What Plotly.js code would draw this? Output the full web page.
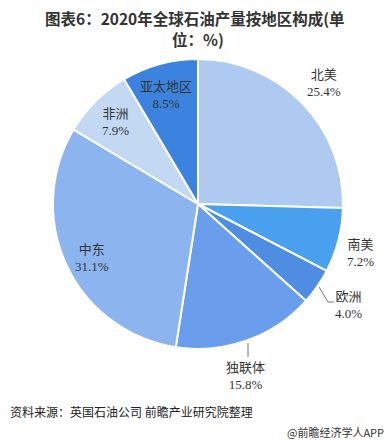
<!DOCTYPE html>
<html>
<head>
<meta charset="utf-8">
<script src="https://cdn.plot.ly/plotly-3.0.1.min.js"></script>
<style>
html,body{margin:0;padding:0;background:#fff;}
#chart{width:391px;height:444px;}
</style>
</head>
<body>
<div id="chart"></div>
<script>
var regions = ["北美", "南美", "欧洲", "独联体", "中东", "非洲", "亚太地区"];
var shares = [25.4, 7.2, 4.0, 15.8, 31.1, 7.9, 8.5];
var colors = ["#aecaf1", "#48a0ef", "#4f8de3", "#6a9eec", "#8cb5f0", "#c3d8f3", "#3b83df"];
var titleLines = ["图表6：2020年全球石油产量按地区构成(单", "位：%)"];
var sourceText = "资料来源：英国石油公司 前瞻产业研究院整理";
var brandText = "@前瞻经济学人APP";

var W = 391, H = 444;
function px(x){return x / W;}
function py(y){return 1 - y / H;}

// label anchor positions (pixel) for each region
var labelPos = [[324, 83], [360, 253], [348, 305], [245, 376], [92, 258], [115, 122], [166, 95]];

var labelFont = {family: "'Liberation Serif', 'Noto Sans CJK SC', serif", size: 13, color: "#333333"};

var annotations = regions.map(function(r, i){
  return {
    xref: "paper", yref: "paper",
    x: px(labelPos[i][0]), y: py(labelPos[i][1]),
    text: r + "<br>" + shares[i].toFixed(1) + "%",
    showarrow: false, font: labelFont, align: "center",
    xanchor: "center", yanchor: "middle"
  };
});

var titleFont = {family: "'Noto Sans CJK SC', sans-serif", size: 15.5, color: "#333333"};
annotations.push({
  xref: "paper", yref: "paper", x: px(195), y: py(18),
  text: "<b>" + titleLines[0] + "</b>", showarrow: false,
  xanchor: "center", yanchor: "middle", font: titleFont, borderpad: 0
});
annotations.push({
  xref: "paper", yref: "paper", x: px(198), y: py(39),
  text: "<b>" + titleLines[1] + "</b>", showarrow: false,
  xanchor: "center", yanchor: "middle", font: titleFont, borderpad: 0
});

annotations.push({
  xref: "paper", yref: "paper", x: px(8), y: py(411),
  text: sourceText, showarrow: false, xanchor: "left", yanchor: "middle",
  font: {family: "'Noto Sans CJK SC', sans-serif", size: 12, color: "#222222"}
});
annotations.push({
  xref: "paper", yref: "paper", x: px(386), y: py(432),
  text: brandText, showarrow: false, xanchor: "right", yanchor: "middle",
  font: {family: "'Noto Sans CJK SC', sans-serif", size: 11, color: "#333333"}
});

var shapes = [
  {type: "path", xref: "paper", yref: "paper",
   path: "M " + px(319) + " " + py(287) + " L " + px(328) + " " + py(302) + " L " + px(334) + " " + py(302),
   line: {color: "#777777", width: 1}},
  {type: "line", xref: "paper", yref: "paper",
   x0: px(248), y0: py(343), x1: px(248), y1: py(357),
   line: {color: "#777777", width: 1}}
];

var data = [{
  type: "pie",
  labels: regions,
  values: shares,
  sort: false,
  direction: "clockwise",
  rotation: 0,
  marker: {colors: colors, line: {color: "#ffffff", width: 2}},
  textinfo: "none",
  hoverinfo: "label+percent",
  domain: {x: [px(53), px(343)], y: [py(349), py(59)]},
  showlegend: false
}];

var layout = {
  width: W, height: H,
  margin: {l: 0, r: 0, t: 0, b: 0},
  paper_bgcolor: "#ffffff",
  annotations: annotations,
  shapes: shapes
};

Plotly.newPlot("chart", data, layout, {displayModeBar: false, staticPlot: true});
</script>
</body>
</html>
